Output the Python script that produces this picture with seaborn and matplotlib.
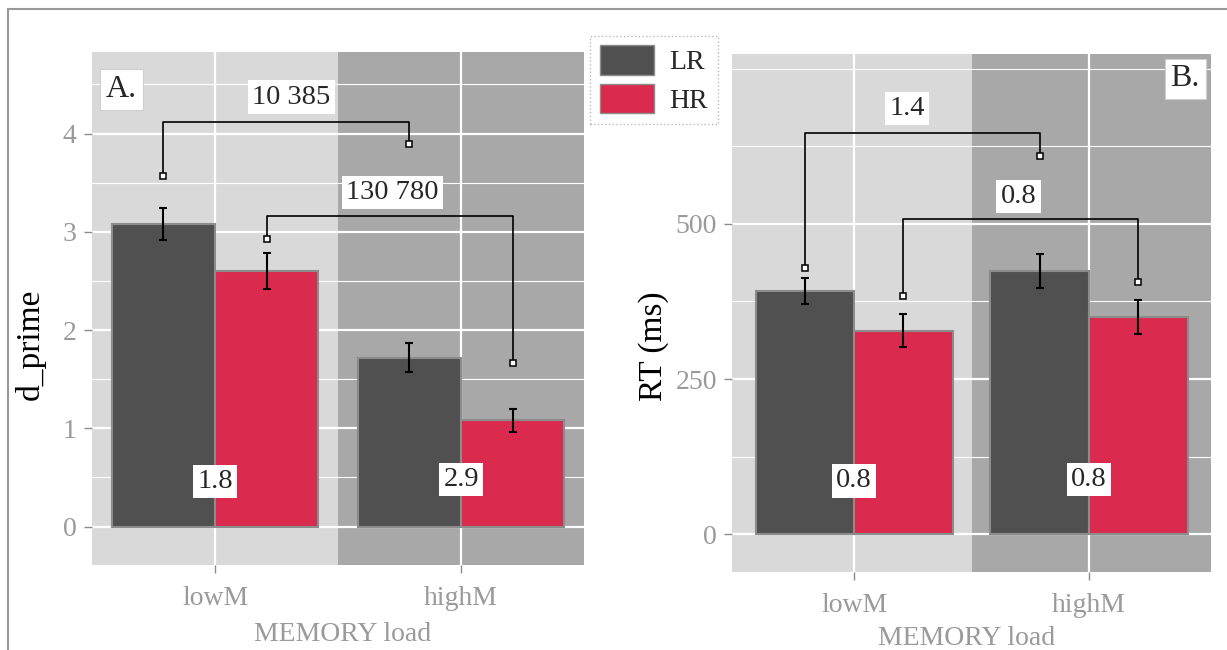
import numpy as np
import pandas as pd
import matplotlib
matplotlib.use('Agg')
import matplotlib.pyplot as plt
import seaborn as sns
from matplotlib.patches import Patch
from matplotlib.lines import Line2D

loads = ['lowM', 'highM']
groups = ['LR', 'HR']

# panel A: d_prime
dprime_lr = [3.08, 1.72]
dprime_hr = [2.60, 1.08]
dprime_se_lr = [0.16, 0.145]
dprime_se_hr = [0.185, 0.12]

# panel B: RT (ms)
rt_lr = [392, 424]
rt_hr = [328, 350]
rt_se_lr = [21.5, 27]
rt_se_hr = [26.5, 27]

# brackets: group, end heights (lowM, highM), top, label
brackets_a = [('LR', 3.57, 3.89, 4.12, '10 385'),
              ('HR', 2.93, 1.66, 3.16, '130 780')]
brackets_b = [('LR', 429, 610, 647, '1.4'),
              ('HR', 384, 406, 508, '0.8')]

# ratios written at the foot of each group
foot_a = ['1.8', '2.9']
foot_b = ['0.8', '0.8']

colors = {'LR': '#505050', 'HR': '#DA2A4E'}
grey_txt = '#9A9A9A'

sns.set_theme(style='white')
plt.rcParams['font.family'] = ['Liberation Serif', 'DejaVu Serif']


def make_df(lr, hr, se_lr, se_hr):
    return pd.DataFrame({'load': loads * 2,
                         'group': ['LR'] * 2 + ['HR'] * 2,
                         'value': lr + hr,
                         'se': se_lr + se_hr})


def draw_panel(ax, df, brackets, label_pos, foot, foot_y, ylim, xlim,
               majors, minors, ylabel, tag, tag_pos):
    ax.axvspan(-2, 0.5, color='#D9D9D9', zorder=0, lw=0)
    ax.axvspan(0.5, 3, color='#A8A8A8', zorder=0, lw=0)
    sns.barplot(data=df, x='load', y='value', hue='group', order=loads,
                hue_order=groups, palette=colors, width=0.84, saturation=1,
                errorbar=None, edgecolor='#8C8C8C', linewidth=1.5,
                legend=False, ax=ax)

    centers = {}
    for g, cont in zip(groups, ax.containers):
        xs = [b.get_x() + b.get_width() / 2 for b in cont]
        centers[g] = xs
        sub = df[df['group'] == g]
        ax.errorbar(xs, sub['value'], yerr=sub['se'], fmt='none',
                    ecolor='black', elinewidth=1.5, capsize=3, capthick=1.5,
                    zorder=4)

    for (g, y0, y1, top, lab), (lx, ly) in zip(brackets, label_pos):
        x0, x1 = centers[g]
        ax.plot([x0, x0, x1, x1], [y0, top, top, y1], color='black', lw=1.2,
                zorder=5)
        ax.plot([x0, x1], [y0, y1], 's', ms=4.5, mfc='white', mec='black',
                mew=1.1, zorder=6)
        ax.text(lx, ly, lab, ha='center', va='center', fontsize=20.5, zorder=7,
                bbox=dict(boxstyle='square,pad=0.15', fc='white', ec='none'))

    for i, lab in enumerate(foot):
        ax.text(i, foot_y[i], lab, ha='center', va='center', fontsize=20.5,
                zorder=7,
                bbox=dict(boxstyle='square,pad=0.15', fc='white', ec='none'))

    ax.text(tag_pos[0], tag_pos[1], tag, ha='center', va='center',
            fontsize=23, zorder=7,
            bbox=dict(boxstyle='square,pad=0.18', fc='white', ec='#CFCFCF',
                      lw=0.8))

    ax.set_xlim(*xlim)
    ax.set_ylim(*ylim)
    ax.set_yticks(majors)
    ax.set_yticks(minors, minor=True)
    ax.set_facecolor('none')
    ax.set_axisbelow(True)
    ax.grid(True, which='major', color='white', lw=1.6)
    ax.grid(True, which='minor', axis='y', color='white', lw=0.8)
    for s in ax.spines.values():
        s.set_visible(False)
    ax.tick_params(which='major', length=6, width=1, color='#8C8C8C',
                   labelcolor=grey_txt, labelsize=20, pad=5,
                   bottom=True, left=True)
    ax.tick_params(axis='x', which='major', pad=9)
    ax.tick_params(which='minor', length=0)
    ax.set_ylabel(ylabel, fontsize=24, color='black')
    ax.set_xlabel('MEMORY load', fontsize=20, color=grey_txt)


fig = plt.figure(figsize=(12.27, 6.5), dpi=100)
ax_a = fig.add_axes([0.075, 0.131, 0.401, 0.789])
ax_b = fig.add_axes([0.5966, 0.12, 0.3904, 0.797])

draw_panel(ax_a, make_df(dprime_lr, dprime_hr, dprime_se_lr, dprime_se_hr),
           brackets_a, [(0.31, 4.37), (0.72, 3.40)], foot_a, [0.46, 0.48],
           (-0.39, 4.83), (-0.5, 1.5), [0, 1, 2, 3, 4],
           [0.5, 1.5, 2.5, 3.5, 4.5], 'd_prime', 'A.', (-0.38, 4.45))
draw_panel(ax_b, make_df(rt_lr, rt_hr, rt_se_lr, rt_se_hr),
           brackets_b, [(0.225, 686), (0.70, 544)], foot_b, [86, 88],
           (-61, 774), (-0.52, 1.52), [0, 250, 500],
           [125, 375, 625, 750], 'RT (ms)', 'B.', (1.41, 734))

ax_a.yaxis.set_label_coords(-0.094, 0.43)
ax_b.yaxis.set_label_coords(-0.132, 0.435)
ax_a.xaxis.set_label_coords(0.51, -0.112)
ax_b.xaxis.set_label_coords(0.49, -0.105)

handles = [Patch(facecolor=colors[g], edgecolor='#8C8C8C', lw=1) for g in groups]
leg = fig.legend(handles, groups, loc='upper left',
                 bbox_to_anchor=(0.481, 0.945), fontsize=20, frameon=True,
                 handlelength=1.95, handleheight=1.25, handletextpad=0.55,
                 borderpad=0.35, labelspacing=0.3, fancybox=False,
                 borderaxespad=0)
leg.get_frame().set_edgecolor('#AAAAAA')
leg.get_frame().set_linestyle(':')
leg.get_frame().set_linewidth(1)

# outer frame (top and left edges)
fig.add_artist(Line2D([8 / 1227, 1], [1 - 8.5 / 650] * 2, color='#999999',
                      lw=1.5, transform=fig.transFigure))
fig.add_artist(Line2D([8 / 1227] * 2, [0, 1 - 8.5 / 650], color='#999999',
                      lw=1.5, transform=fig.transFigure))

fig.savefig('out.png', dpi=100)
